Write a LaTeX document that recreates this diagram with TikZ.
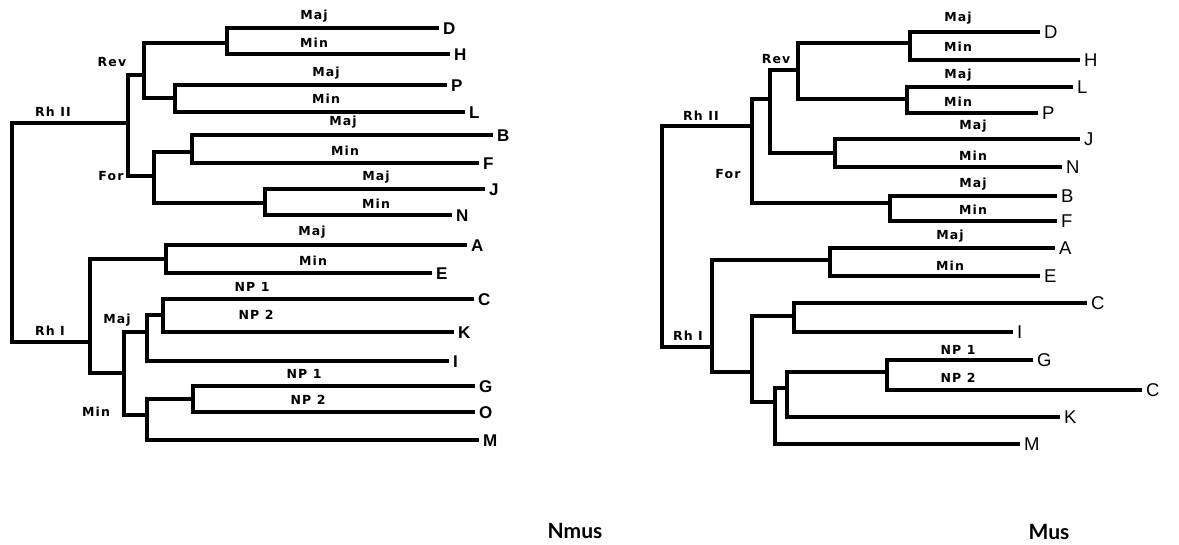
\documentclass[tikz,border=0pt]{standalone}
\usepackage{fontspec}
\setmainfont{Liberation Sans}
\newfontfamily\tagfont{DejaVu Sans}[LetterSpace=9]
\newfontfamily\titlefont{Lato}
\begin{document}
\begin{tikzpicture}[x=1pt,y=-1pt,
  treeL/.style={line width=3.4pt,line join=miter},
  treeR/.style={line width=3.2pt,line join=miter},
  leafL/.style={anchor=west,inner xsep=4pt,inner ysep=0pt,text height=12.5pt,text depth=0pt,
    font=\bfseries\fontsize{17}{17}\selectfont},
  leafR/.style={anchor=west,inner xsep=4pt,inner ysep=0pt,text height=13pt,text depth=0pt,
    font=\fontsize{18.5}{18.5}\selectfont},
  tag/.style={inner sep=0pt,font=\tagfont\bfseries\fontsize{12.5}{13}\selectfont},
  title/.style={inner sep=0pt,font=\titlefont\bfseries\fontsize{21}{22}\selectfont}]
\useasboundingbox (0,0) rectangle (1179,544);

% ---------------- Nmus tree ----------------
\coordinate (Lroot) at (12,230);
\coordinate (Lrh2) at (128,123);
\coordinate (Lrev) at (144,75);
\coordinate (Ldh)  at (227,43);
\coordinate (Lpl)  at (175,98);
\coordinate (Lfor) at (154,176);
\coordinate (Lbf)  at (192,152);
\coordinate (Ljn)  at (265,203);
\coordinate (Lrh1) at (90,342);
\coordinate (Lae)  at (166,259);
\coordinate (Llow) at (124,373);
\coordinate (Lmaj) at (147,332);
\coordinate (Lck)  at (163,315);
\coordinate (Lmin) at (147,415);
\coordinate (Lgo)  at (193,399);

\node[leafL] (LD) at (439,28)  {D};
\node[leafL] (LH) at (450,54)  {H};
\node[leafL] (LP) at (447,85)  {P};
\node[leafL] (LL) at (465,112) {L};
\node[leafL] (LB) at (493,135) {B};
\node[leafL] (LF) at (479,163) {F};
\node[leafL] (LJ) at (485,189) {J};
\node[leafL] (LN) at (452,215) {N};
\node[leafL] (LA) at (467,245) {A};
\node[leafL] (LE) at (432,273) {E};
\node[leafL] (LC) at (474,299) {C};
\node[leafL] (LK) at (454,332) {K};
\node[leafL] (LI) at (449,361) {I};
\node[leafL] (LG) at (475,386) {G};
\node[leafL] (LO) at (475,412) {O};
\node[leafL] (LM) at (479,440) {M};

\draw[treeL] (LD.west) -| (Ldh) |- (LH.west);
\draw[treeL] (LP.west) -| (Lpl) |- (LL.west);
\draw[treeL] (Ldh) -| (Lrev) |- (Lpl);
\draw[treeL] (LB.west) -| (Lbf) |- (LF.west);
\draw[treeL] (LJ.west) -| (Ljn) |- (LN.west);
\draw[treeL] (Lbf) -| (Lfor) |- (Ljn);
\draw[treeL] (Lrev) -| (Lrh2) |- (Lfor);
\draw[treeL] (LA.west) -| (Lae) |- (LE.west);
\draw[treeL] (LC.west) -| (Lck) |- (LK.west);
\draw[treeL] (Lck) -| (Lmaj) |- (LI.west);
\draw[treeL] (LG.west) -| (Lgo) |- (LO.west);
\draw[treeL] (Lgo) -| (Lmin) |- (LM.west);
\draw[treeL] (Lmaj) -| (Llow) |- (Lmin);
\draw[treeL] (Lae) -| (Lrh1) |- (Llow);
\draw[treeL] (Lrh2) -| (Lroot) |- (Lrh1);

\node[tag] (tLrh2) at (53,112)  {Rh II};
\node[tag] (tLrev) at (112,62)  {Rev};
\node[tag] (tLfor) at (111,176) {For};
\node[tag] (tLrh1) at (50,331)  {Rh I};
\node[tag] (tLmaj) at (117,320) {Maj};
\node[tag] (tLmin) at (96,412)  {Min};
\node[tag] at (314,16)  {Maj};
\node[tag] at (314,43)  {Min};
\node[tag] at (326,73)  {Maj};
\node[tag] at (326,99)  {Min};
\node[tag] at (343,122) {Maj};
\node[tag] at (345,151) {Min};
\node[tag] at (376,177) {Maj};
\node[tag] at (376,204) {Min};
\node[tag] at (312,232) {Maj};
\node[tag] at (313,261) {Min};
\node[tag] at (252,287) {NP 1};
\node[tag] at (256,315) {NP 2};
\node[tag] at (304,374) {NP 1};
\node[tag] at (308,400) {NP 2};

% ---------------- Mus tree ----------------
\coordinate (Rroot) at (662,236);
\coordinate (Rrh2) at (752,126);
\coordinate (Rrev) at (770,99);
\coordinate (Rdl)  at (798,70);
\coordinate (Rdh)  at (910,43);
\coordinate (Rlp)  at (907,99);
\coordinate (Rjn)  at (835,153);
\coordinate (Rbf)  at (890,203);
\coordinate (Rrh1) at (712,347);
\coordinate (Rae)  at (830,260);
\coordinate (Rlow) at (752,372);
\coordinate (Rci)  at (794,316);
\coordinate (Rgk)  at (775,402);
\coordinate (Rgck) at (787,388);
\coordinate (Rgc)  at (887,372);

\node[leafR] (RD)  at (1040,32)  {D};
\node[leafR] (RH)  at (1080,60)  {H};
\node[leafR] (RL)  at (1073,87)  {L};
\node[leafR] (RP)  at (1038,113) {P};
\node[leafR] (RJ)  at (1080,139) {J};
\node[leafR] (RN)  at (1062,167) {N};
\node[leafR] (RB)  at (1057,196) {B};
\node[leafR] (RF)  at (1057,221) {F};
\node[leafR] (RA)  at (1055,248) {A};
\node[leafR] (RE)  at (1040,276) {E};
\node[leafR] (RC)  at (1087,303) {C};
\node[leafR] (RI)  at (1013,332) {I};
\node[leafR] (RG)  at (1033,360) {G};
\node[leafR] (RC2) at (1142,390) {C};
\node[leafR] (RK)  at (1060,417) {K};
\node[leafR] (RM)  at (1020,444) {M};

\draw[treeR] (RD.west) -| (Rdh) |- (RH.west);
\draw[treeR] (RL.west) -| (Rlp) |- (RP.west);
\draw[treeR] (Rdh) -| (Rdl) |- (Rlp);
\draw[treeR] (RJ.west) -| (Rjn) |- (RN.west);
\draw[treeR] (Rdl) -| (Rrev) |- (Rjn);
\draw[treeR] (RB.west) -| (Rbf) |- (RF.west);
\draw[treeR] (Rrev) -| (Rrh2) |- (Rbf);
\draw[treeR] (RA.west) -| (Rae) |- (RE.west);
\draw[treeR] (RC.west) -| (Rci) |- (RI.west);
\draw[treeR] (RG.west) -| (Rgc) |- (RC2.west);
\draw[treeR] (Rgc) -| (Rgck) |- (RK.west);
\draw[treeR] (Rgck) -| (Rgk) |- (RM.west);
\draw[treeR] (Rci) -| (Rlow) |- (Rgk);
\draw[treeR] (Rae) -| (Rrh1) |- (Rlow);
\draw[treeR] (Rrh2) -| (Rroot) |- (Rrh1);

\node[tag] (tRrh2) at (701,116) {Rh II};
\node[tag] (tRrev) at (776,59)  {Rev};
\node[tag] (tRfor) at (728,174) {For};
\node[tag] (tRrh1) at (688,336) {Rh I};
\node[tag] at (958,18)  {Maj};
\node[tag] at (958,47)  {Min};
\node[tag] at (958,75)  {Maj};
\node[tag] at (958,102) {Min};
\node[tag] at (973,126) {Maj};
\node[tag] at (973,156) {Min};
\node[tag] at (973,184) {Maj};
\node[tag] at (973,210) {Min};
\node[tag] at (950,236) {Maj};
\node[tag] at (950,266) {Min};
\node[tag] at (958,350) {NP 1};
\node[tag] at (958,378) {NP 2};

% captions
\node[title] (capL) at (575,531) {Nmus};
\node[title] (capR) at (1049,532) {Mus};
\end{tikzpicture}
\end{document}
